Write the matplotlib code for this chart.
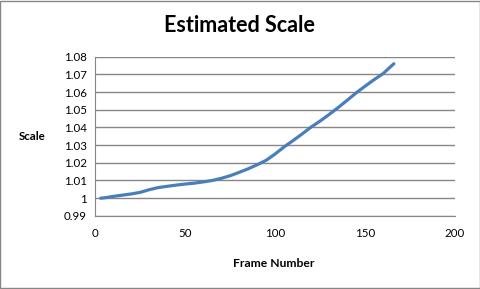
import matplotlib.pyplot as plt
import numpy as np

plt.rcParams['font.family'] = ['Lato', 'DejaVu Sans']

frames = [3, 5, 10, 15, 20, 25, 30, 35, 40, 45, 50, 55, 60, 65, 70, 75, 80, 85,
          90, 95, 100, 105, 110, 115, 120, 125, 130, 135, 140, 145, 150, 155,
          160, 166]
scale = [1.0000, 1.0002, 1.0010, 1.0017, 1.0024, 1.0033, 1.0048, 1.0060,
         1.0067, 1.0074, 1.0080, 1.0085, 1.0092, 1.0100, 1.0112, 1.0127,
         1.0146, 1.0166, 1.0189, 1.0214, 1.0250, 1.0290, 1.0326, 1.0363,
         1.0402, 1.0436, 1.0473, 1.0512, 1.0553, 1.0595, 1.0633, 1.0670,
         1.0704, 1.0760]

xticks = [0, 50, 100, 150, 200]
yticks = [0.99, 1.0, 1.01, 1.02, 1.03, 1.04, 1.05, 1.06, 1.07, 1.08]
ytick_labels = ['0.99', '1', '1.01', '1.02', '1.03', '1.04', '1.05', '1.06', '1.07', '1.08']

fig = plt.figure(figsize=(4.81, 2.89), dpi=100)
ax = fig.add_axes([0.198, 0.253, 0.748, 0.551])

ax.plot(frames, scale, color='#4A7EBB', linewidth=2.3, solid_capstyle='round')

ax.set_xlim(0, 200)
ax.set_ylim(0.99, 1.08)
ax.set_xticks(xticks)
ax.set_yticks(yticks)
ax.set_yticklabels(ytick_labels)
ax.tick_params(length=0, labelsize=8.3, pad=9)
ax.tick_params(axis='y', pad=6)

ax.grid(axis='y', color='#868686', linewidth=1)
ax.set_axisbelow(True)
for side in ['top', 'right']:
    ax.spines[side].set_visible(False)
for side in ['left', 'bottom']:
    ax.spines[side].set_color('#868686')

fig.text(0.497, 0.913, 'Estimated Scale', ha='center', va='center',
         fontsize=15.5, fontweight='bold')
fig.text(0.067, 0.526, 'Scale', ha='center', va='center', fontsize=8.3, fontweight='bold')
fig.text(0.57, 0.087, 'Frame Number', ha='center', va='center', fontsize=8.7, fontweight='bold')

fig.patches.append(plt.Rectangle((0.001, 0.002), 0.997, 0.995, transform=fig.transFigure,
                                 fill=False, edgecolor='#868686', linewidth=1))

fig.savefig('out.png', dpi=100)
